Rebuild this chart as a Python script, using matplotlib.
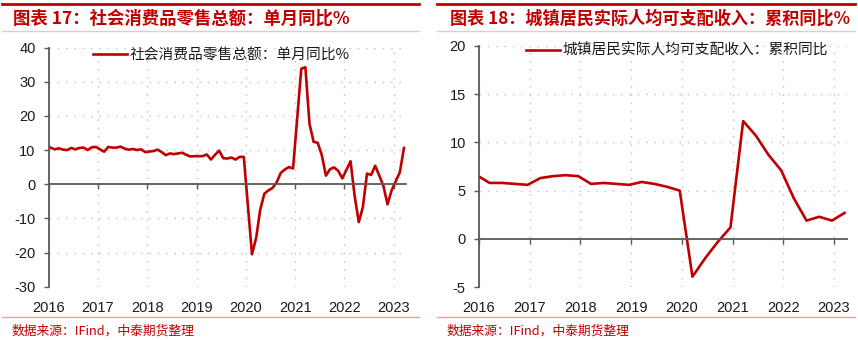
import matplotlib
matplotlib.use("Agg")
import matplotlib.pyplot as plt
from matplotlib.lines import Line2D
import numpy as np

# ---------------- data ----------------
# Retail sales, monthly YoY (%); Jan-Feb combined reported at Feb
retail_months = (["2015-12"]
                 + [f"{y}-{m:02d}" for y in range(2016, 2023) for m in range(2, 13)]
                 + ["2023-02", "2023-03"])
retail_yoy = [11.1,
              10.2, 10.5, 10.1, 10.0, 10.6, 10.2, 10.6, 10.7, 10.0, 10.8, 10.9,
              9.5, 10.9, 10.7, 10.7, 11.0, 10.4, 10.1, 10.3, 10.0, 10.2, 9.4,
              9.7, 10.1, 9.4, 8.5, 9.0, 8.8, 9.0, 9.2, 8.6, 8.1, 8.2,
              8.2, 8.7, 7.2, 8.6, 9.8, 7.6, 7.5, 7.8, 7.2, 8.0, 8.0,
              -20.5, -15.8, -7.5, -2.8, -1.8, -1.1, 0.5, 3.3, 4.3, 5.0, 4.6,
              33.8, 34.2, 17.7, 12.4, 12.1, 8.5, 2.5, 4.4, 4.9, 3.9, 1.7,
              6.7, -3.5, -11.1, -6.7, 3.1, 2.7, 5.4, 2.5, -0.5, -5.9, -1.8,
              3.5, 10.6]

# Urban real per-capita disposable income, cumulative YoY (%), quarterly
income_months = (["2015-12"]
                 + [f"{y}-{m:02d}" for y in range(2016, 2023) for m in (3, 6, 9, 12)]
                 + ["2023-03"])
income_yoy = [6.6,
              5.8, 5.8, 5.7, 5.6,
              6.3, 6.5, 6.6, 6.5,
              5.7, 5.8, 5.7, 5.6,
              5.9, 5.7, 5.4, 5.0,
              -3.9, -2.0, -0.3, 1.2,
              12.2, 10.7, 8.7, 7.1,
              4.2, 1.9, 2.3, 1.9,
              2.7]

years = list(range(2016, 2024))
left_title = "图表 17：社会消费品零售总额：单月同比%"
right_title = "图表 18：城镇居民实际人均可支配收入：累积同比%"
left_label = "社会消费品零售总额：单月同比%"
right_label = "城镇居民实际人均可支配收入：累积同比"
source = "数据来源：IFind，中泰期货整理"


def to_year(ms):
    out = []
    for s in ms:
        y, m = s.split("-")
        out.append(int(y) + (int(m) - 0.5) / 12.0)
    return np.array(out)


CJK = ["Noto Sans CJK SC", "DejaVu Sans"]
NUM = ["Liberation Sans", "DejaVu Sans"]
RED = "#C00000"
AXC = "#595959"
GRID = "#BFBFBF"

W, H = 858, 340
fig = plt.figure(figsize=(W / 100, H / 100), dpi=100)


def px_axes(x0, x1, ytop, ybot):
    return fig.add_axes([x0 / W, 1 - ybot / H, (x1 - x0) / W, (ybot - ytop) / H])


def style_axes(ax, x, y, ylim, yticks, label, leg_anchor):
    ax.plot(x, y, color=RED, lw=1.9, label=label, solid_joinstyle="round")
    ax.set_xlim(2016.0, 2023.25)
    ax.set_ylim(*ylim)
    ax.set_yticks(yticks)
    ax.set_yticklabels([f"{v:g}" for v in yticks], fontfamily=NUM, fontsize=10.5)
    ax.set_xticks(years)
    ax.set_axisbelow(True)
    ax.grid(True, linestyle=(0, (1, 5)), color=GRID, lw=1.0)
    for s in ("top", "right"):
        ax.spines[s].set_visible(False)
    ax.spines["left"].set_color(AXC)
    ax.spines["left"].set_linewidth(1.3)
    ax.spines["bottom"].set_position(("data", 0))
    ax.spines["bottom"].set_color(AXC)
    ax.spines["bottom"].set_linewidth(1.3)
    ax.tick_params(axis="y", direction="out", length=3.5, width=1.0, color=AXC,
                   pad=6, labelcolor="#1a1a1a")
    ax.tick_params(axis="x", direction="out", length=3.5, width=1.0, color=AXC,
                   labelbottom=False)
    sec = ax.secondary_xaxis(0.0)
    sec.set_xticks(years)
    sec.set_xticklabels([str(v) for v in years], fontfamily=NUM, fontsize=10.5)
    sec.tick_params(length=0, pad=10, labelcolor="#1a1a1a")
    sec.spines["bottom"].set_visible(False)
    leg = ax.legend(loc="center left", bbox_to_anchor=leg_anchor, frameon=False,
                    borderpad=0, borderaxespad=0, handlelength=2.3,
                    handletextpad=0.2, prop={"family": CJK, "size": 10.6})
    for t in leg.get_texts():
        t.set_color("#1a1a1a")


ax1 = px_axes(48.7, 406, 47.5, 286.7)
style_axes(ax1, to_year(retail_months), retail_yoy, (-30, 40),
           list(range(-30, 41, 10)), left_label, (0.123, 0.967))

ax2 = px_axes(479, 846.7, 45.7, 287.3)
style_axes(ax2, to_year(income_months), income_yoy, (-5, 20),
           list(range(-5, 21, 5)), right_label, (0.128, 0.979))

# decorations: header / footer rules
def hline(x0, x1, y, color, lw):
    fig.add_artist(Line2D([x0 / W, x1 / W], [1 - y / H, 1 - y / H],
                          transform=fig.transFigure, color=color, lw=lw))

for (x0, x1) in ((2, 419), (437, 855)):
    hline(x0, x1, 3.5, RED, 2.0)
    hline(x0, x1, 31, "#F2C4C4", 1.0)
    hline(x0, x1, 316.7, "#E3A3A3", 1.0)

fig.text(13 / W, 1 - 19 / H, left_title, fontsize=12.5, fontweight="bold",
         color=RED, va="center", ha="left", fontfamily=CJK)
fig.text(450 / W, 1 - 19 / H, right_title, fontsize=12.3, fontweight="bold",
         color=RED, va="center", ha="left", fontfamily=CJK)
fig.text(12 / W, 1 - 331 / H, source, fontsize=9.2, color=RED,
         va="center", ha="left", fontfamily=CJK)
fig.text(447 / W, 1 - 331 / H, source, fontsize=9.2, color=RED,
         va="center", ha="left", fontfamily=CJK)

fig.savefig("out.png", dpi=100)
